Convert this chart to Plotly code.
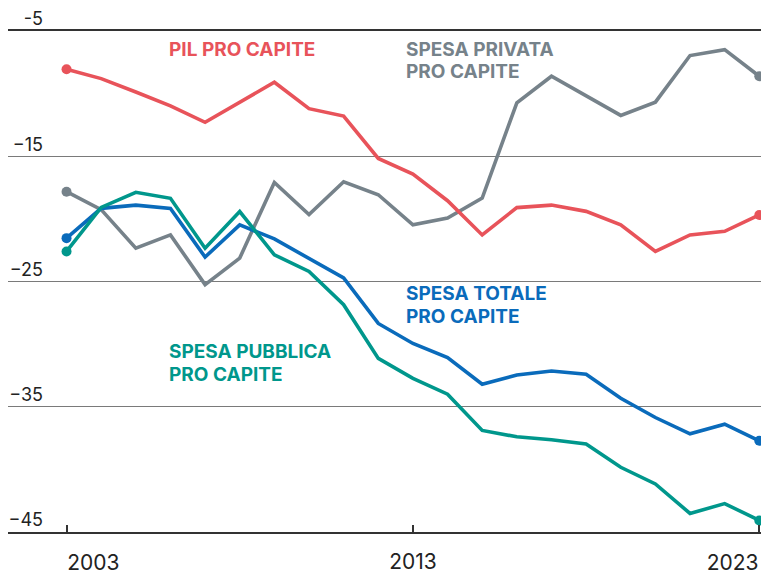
import plotly.graph_objects as go

years = list(range(2003, 2024))

pil = [-8.05, -8.8, -9.87, -10.98, -12.29, -10.7, -9.09, -11.2, -11.79, -15.18, -16.43,
       -18.55, -21.28, -19.1, -18.9, -19.4, -20.48, -22.6, -21.28, -20.99, -19.69]
privata = [-17.83, -19.26, -22.34, -21.28, -25.25, -23.13, -17.09, -19.66, -17.04, -18.07, -20.48,
           -19.93, -18.34, -10.73, -8.61, -10.15, -11.74, -10.68, -6.96, -6.49, -8.61]
totale = [-21.54, -19.16, -18.9, -19.16, -23.05, -20.48, -21.6, -23.16, -24.72, -28.35, -29.95,
          -31.08, -33.2, -32.47, -32.15, -32.41, -34.32, -35.86, -37.16, -36.39, -37.72]
pubblica = [-22.6, -19.08, -17.88, -18.36, -22.34, -19.42, -22.87, -24.2, -26.85, -31.14, -32.73,
            -34.0, -36.89, -37.4, -37.64, -37.98, -39.83, -41.16, -43.52, -42.73, -44.08]

labels_privata = ["SPESA PRIVATA", "PRO CAPITE"]
labels_pil = ["PIL PRO CAPITE"]
labels_totale = ["SPESA TOTALE", "PRO CAPITE"]
labels_pubblica = ["SPESA PUBBLICA", "PRO CAPITE"]

y_ticks = [-5, -15, -25, -35, -45]
y_ticktext = ["-5", "\u221215", "\u221225", "\u221235", "\u221245"]
x_ticks = [2003, 2013, 2023]

series = [
    (labels_privata, privata, "#76828A", 2012.74, [-6.49, -8.24]),
    (labels_pil, pil, "#E8535A", 2005.9, [-6.49]),
    (labels_totale, totale, "#0A6BBB", 2012.74, [-25.97, -27.76]),
    (labels_pubblica, pubblica, "#00978C", 2005.9, [-30.58, -32.41]),
]

fig = go.Figure()
for lines, vals, color, lx, lys in series:
    fig.add_trace(go.Scatter(
        x=years, y=vals, mode="lines", line=dict(color=color, width=3.6),
        hoverinfo="skip", showlegend=False, cliponaxis=False))
    fig.add_trace(go.Scatter(
        x=[years[0], years[-1]], y=[vals[0], vals[-1]], mode="markers",
        marker=dict(color=color, size=10), hoverinfo="skip", showlegend=False,
        cliponaxis=False))
    for txt, ly in zip(lines, lys):
        fig.add_annotation(x=lx, y=ly, xref="x", yref="y", text="<b>" + txt + "</b>",
                           showarrow=False, xanchor="left", yanchor="middle", align="left",
                           font=dict(family="Inter", size=19, color=color))

xr = [2001.31, 2023.28]
common_x = dict(range=xr, showgrid=False, zeroline=False,
                tickfont=dict(size=21, family="Inter", color="#222222"))

fig.update_layout(
    width=761, height=567,
    margin=dict(l=0, r=0, t=23, b=41),
    paper_bgcolor="white", plot_bgcolor="white",
    font=dict(family="Inter", color="#222222"),
    xaxis=dict(
        **common_x, tickvals=[x_ticks[1]], ticktext=[str(x_ticks[1])],
        showline=True, linecolor="#333333", linewidth=1.5, ticklabelstandoff=10,
        mirror=True, ticks="inside", ticklen=7, tickcolor="#333333", tickwidth=1.5,
    ),
    xaxis2=dict(
        **common_x, overlaying="x", anchor="y", side="bottom",
        tickvals=[x_ticks[0]], ticktext=[str(x_ticks[0])], ticklabelstandoff=16,
        showline=False, ticks="inside", ticklen=7, tickcolor="#333333", tickwidth=1.5,
        ticklabelposition="outside right",
    ),
    xaxis3=dict(
        **common_x, overlaying="x", anchor="y", side="bottom",
        tickvals=[x_ticks[2]], ticktext=[str(x_ticks[2])], ticklabelstandoff=16,
        showline=False, ticks="inside", ticklen=7, tickcolor="#333333", tickwidth=1.5,
        ticklabelposition="outside left",
    ),
    yaxis=dict(
        range=[-45, -5], tickvals=y_ticks, ticktext=y_ticktext,
        anchor="free", position=0.046, side="left",
        showgrid=True, gridcolor="#7a7a7a", gridwidth=1.3, zeroline=False,
        showline=False, ticks="", ticklabelshift=-12, ticklabelstandoff=0,
        tickfont=dict(size=18, family="Inter", color="#222222"),
    ),
)
# invisible anchor traces so the extra x axes are drawn
fig.add_trace(go.Scatter(x=[x_ticks[0]], y=[y_ticks[-1]], xaxis="x2", mode="markers",
                         marker=dict(opacity=0), hoverinfo="skip", showlegend=False))
fig.add_trace(go.Scatter(x=[x_ticks[2]], y=[y_ticks[-1]], xaxis="x3", mode="markers",
                         marker=dict(opacity=0), hoverinfo="skip", showlegend=False))

fig.write_html("out.html")
